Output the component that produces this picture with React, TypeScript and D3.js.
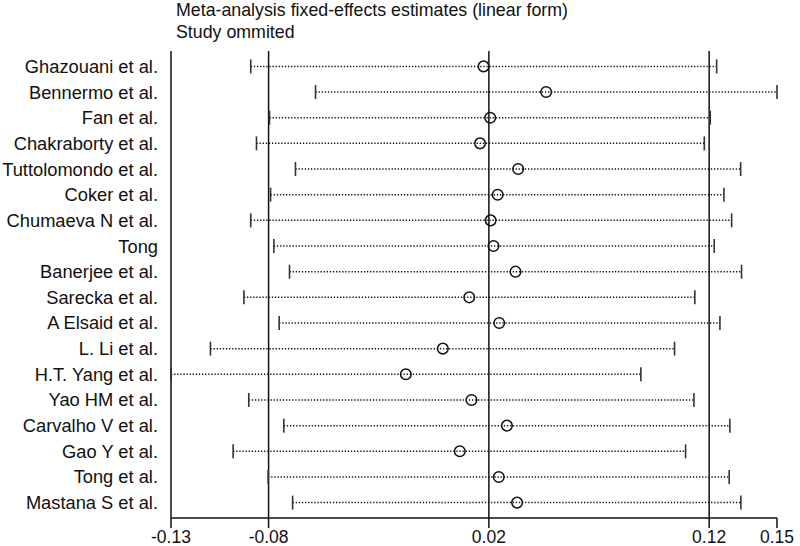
import React from 'react';
import * as d3 from 'd3';

const studies = [
  'Ghazouani et al.',
  'Bennermo et al.',
  'Fan et al.',
  'Chakraborty et al.',
  'Tuttolomondo et al.',
  'Coker et al.',
  'Chumaeva N et al.',
  'Tong',
  'Banerjee et al.',
  'Sarecka et al.',
  'A Elsaid et al.',
  'L. Li et al.',
  'H.T. Yang et al.',
  'Yao HM et al.',
  'Carvalho V et al.',
  'Gao Y et al.',
  'Tong et al.',
  'Mastana S et al.',
];

const estimates = [
  0.0176, 0.046, 0.0206, 0.016, 0.0333, 0.024, 0.0208, 0.0221, 0.0321,
  0.0111, 0.0247, -0.0009, -0.0177, 0.0121, 0.0282, 0.0068, 0.0245, 0.0328,
];
const lowers = [
  -0.0881, -0.0587, -0.0796, -0.0855, -0.0678, -0.0791, -0.0881, -0.0776, -0.0705,
  -0.0912, -0.0752, -0.1064, -0.1243, -0.089, -0.0731, -0.0961, -0.0802, -0.0691,
];
const uppers = [
  0.1234, 0.1508, 0.1205, 0.1178, 0.1343, 0.1267, 0.1302, 0.1223, 0.1347,
  0.1135, 0.1249, 0.1043, 0.089, 0.1131, 0.1294, 0.1093, 0.1291, 0.1344,
];

// overall estimate: lower CI, point estimate, upper CI
const overall = [-0.08, 0.02, 0.12];
const tickLabels = ['-0.13', '-0.08', '0.02', '0.12', '0.15'];
const titleLines = [
  'Meta-analysis fixed-effects estimates (linear form)',
  'Study ommited',
];

const FONT = '"Liberation Sans", Arial, Helvetica, sans-serif';

export default function App() {
  const W = 800;
  const H = 546;
  const xMin = d3.min(lowers) as number;
  const xMax = d3.max(uppers) as number;
  const x = d3.scaleLinear().domain([xMin, xMax]).range([171, 777]);
  const y = d3.scalePoint<string>().domain(studies).range([51, 518]).padding(0.6);
  const top = 51;
  const bottom = 518;
  const tickValues = [xMin, ...overall, xMax];
  const verticals = [xMin, ...overall];

  return (
    <svg
      width={W}
      height={H}
      style={{ position: 'absolute', left: 0, top: 0, background: '#fff' }}
      fontFamily={FONT}
    >
      <rect x={0} y={0} width={W} height={H} fill="#fff" />
      {titleLines.map((t, i) => (
        <text key={t} x={176} y={16 + i * 22} fontSize={17.8} fill="#111">
          {t}
        </text>
      ))}

      {/* dotted CI lines */}
      {studies.map((s, i) => (
        <line
          key={'d' + s}
          x1={x(lowers[i])}
          x2={x(uppers[i])}
          y1={y(s)}
          y2={y(s)}
          stroke="#111"
          strokeWidth={1.5}
          strokeDasharray="1.3 1.8"
        />
      ))}

      {/* vertical reference lines */}
      {verticals.map((v, i) => (
        <line
          key={'v' + i}
          x1={x(v)}
          x2={x(v)}
          y1={top}
          y2={bottom}
          stroke="#111"
          strokeWidth={1.5}
        />
      ))}

      {/* caps */}
      {studies.map((s, i) => (
        <g key={'c' + s}>
          <line
            x1={x(lowers[i])}
            x2={x(lowers[i])}
            y1={(y(s) as number) - 7}
            y2={(y(s) as number) + 7}
            stroke="#333"
            strokeWidth={1.6}
          />
          <line
            x1={x(uppers[i])}
            x2={x(uppers[i])}
            y1={(y(s) as number) - 7}
            y2={(y(s) as number) + 7}
            stroke="#333"
            strokeWidth={1.6}
          />
        </g>
      ))}

      {/* estimates */}
      {studies.map((s, i) => (
        <circle
          key={'e' + s}
          cx={x(estimates[i])}
          cy={y(s)}
          r={5.3}
          fill="none"
          stroke="#111"
          strokeWidth={1.5}
        />
      ))}

      {/* study labels */}
      {studies.map((s) => (
        <text
          key={'l' + s}
          x={158}
          y={(y(s) as number) + 6.5}
          textAnchor="end"
          fontSize={18.3}
          fill="#111"
        >
          {s}
        </text>
      ))}

      {/* x axis */}
      <line x1={x(xMin)} x2={x(xMax)} y1={bottom} y2={bottom} stroke="#111" strokeWidth={1.5} />
      {tickValues.map((v, i) => (
        <g key={'t' + i}>
          <line x1={x(v)} x2={x(v)} y1={bottom} y2={bottom + 10} stroke="#111" strokeWidth={1.5} />
          <text
            x={x(v)}
            y={542.5}
            textAnchor="middle"
            fontSize={17.5}
            fill="#111"
          >
            {tickLabels[i]}
          </text>
        </g>
      ))}
    </svg>
  );
}
